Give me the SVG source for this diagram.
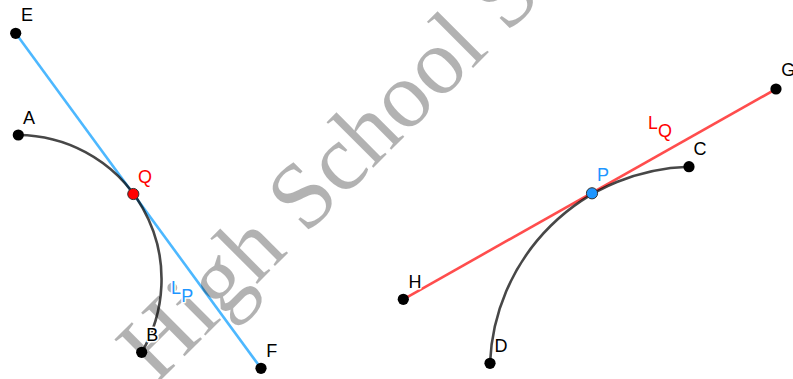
<svg xmlns="http://www.w3.org/2000/svg" width="793" height="379" viewBox="0 0 793 379">
<style>
.lbl{font-family:"Liberation Sans",Arial,sans-serif;font-size:18px;fill:#000;stroke:#fff;stroke-width:3px;paint-order:stroke;stroke-linejoin:round}
.curve{fill:none;stroke:#000;stroke-opacity:0.72;stroke-width:2.6}
.pt{fill:#000}
.wm{font-family:"Liberation Serif","Times New Roman",serif;font-size:94px;fill:#000;fill-opacity:0.3}
</style>
<rect width="793" height="379" fill="#fff"/>
<g id="connectors">
<line id="EF" x1="15.7" y1="33.3" x2="261" y2="368.3" stroke="#4db8ff" stroke-width="2.6"/>
<line id="HG" x1="403.3" y1="299.3" x2="776" y2="89" stroke="#ff4d4d" stroke-width="2.6"/>
<path id="arcAB" class="curve" d="M18.3,135 A144.3,144.3 0 0 1 141.7,352.3"/>
<path id="arcCD" class="curve" d="M689,166.7 A205,205 0 0 0 490,363.3"/>
</g>
<text class="wm" transform="translate(156,385) rotate(-45)">High School S</text>
<g id="node-E"><circle class="pt" cx="15.7" cy="33.3" r="5.6"/><text class="lbl" x="21" y="21">E</text></g>
<g id="node-A"><circle class="pt" cx="18.3" cy="135" r="5.6"/><text class="lbl" x="23" y="123.5">A</text></g>
<g id="node-Q"><circle cx="133.3" cy="194" r="5.6" fill="#ff0000" stroke="#333" stroke-width="1"/><text class="lbl" x="138" y="183" style="fill:#ff0000">Q</text></g>
<g id="node-B"><circle class="pt" cx="141.7" cy="352.3" r="5.6"/><text class="lbl" x="146.3" y="340.5">B</text></g>
<g id="node-F"><circle class="pt" cx="261" cy="368.3" r="5.6"/><text class="lbl" x="266.3" y="357">F</text></g>
<g id="label-LP"><text class="lbl" x="171" y="293.5" style="fill:#1e96ff">L</text><text class="lbl" x="181.3" y="302" style="fill:#1e96ff">P</text></g>
<g id="node-G"><circle class="pt" cx="776" cy="89" r="5.6"/><text class="lbl" x="781.3" y="75.5">G</text></g>
<g id="node-H"><circle class="pt" cx="403.3" cy="299.3" r="5.6"/><text class="lbl" x="408.6" y="288">H</text></g>
<g id="node-P"><circle cx="592" cy="193.3" r="5.6" fill="#1e96ff" stroke="#333" stroke-width="1"/><text class="lbl" x="597" y="181.3" style="fill:#1e96ff">P</text></g>
<g id="node-C"><circle class="pt" cx="689" cy="166.7" r="5.6"/><text class="lbl" x="693.6" y="155.3">C</text></g>
<g id="node-D"><circle class="pt" cx="490" cy="363.3" r="5.6"/><text class="lbl" x="494.6" y="352.3">D</text></g>
<g id="label-LQ"><text class="lbl" x="648" y="128.5" style="fill:#ff0000">L</text><text class="lbl" x="658" y="137" style="fill:#ff0000">Q</text></g>
</svg>
